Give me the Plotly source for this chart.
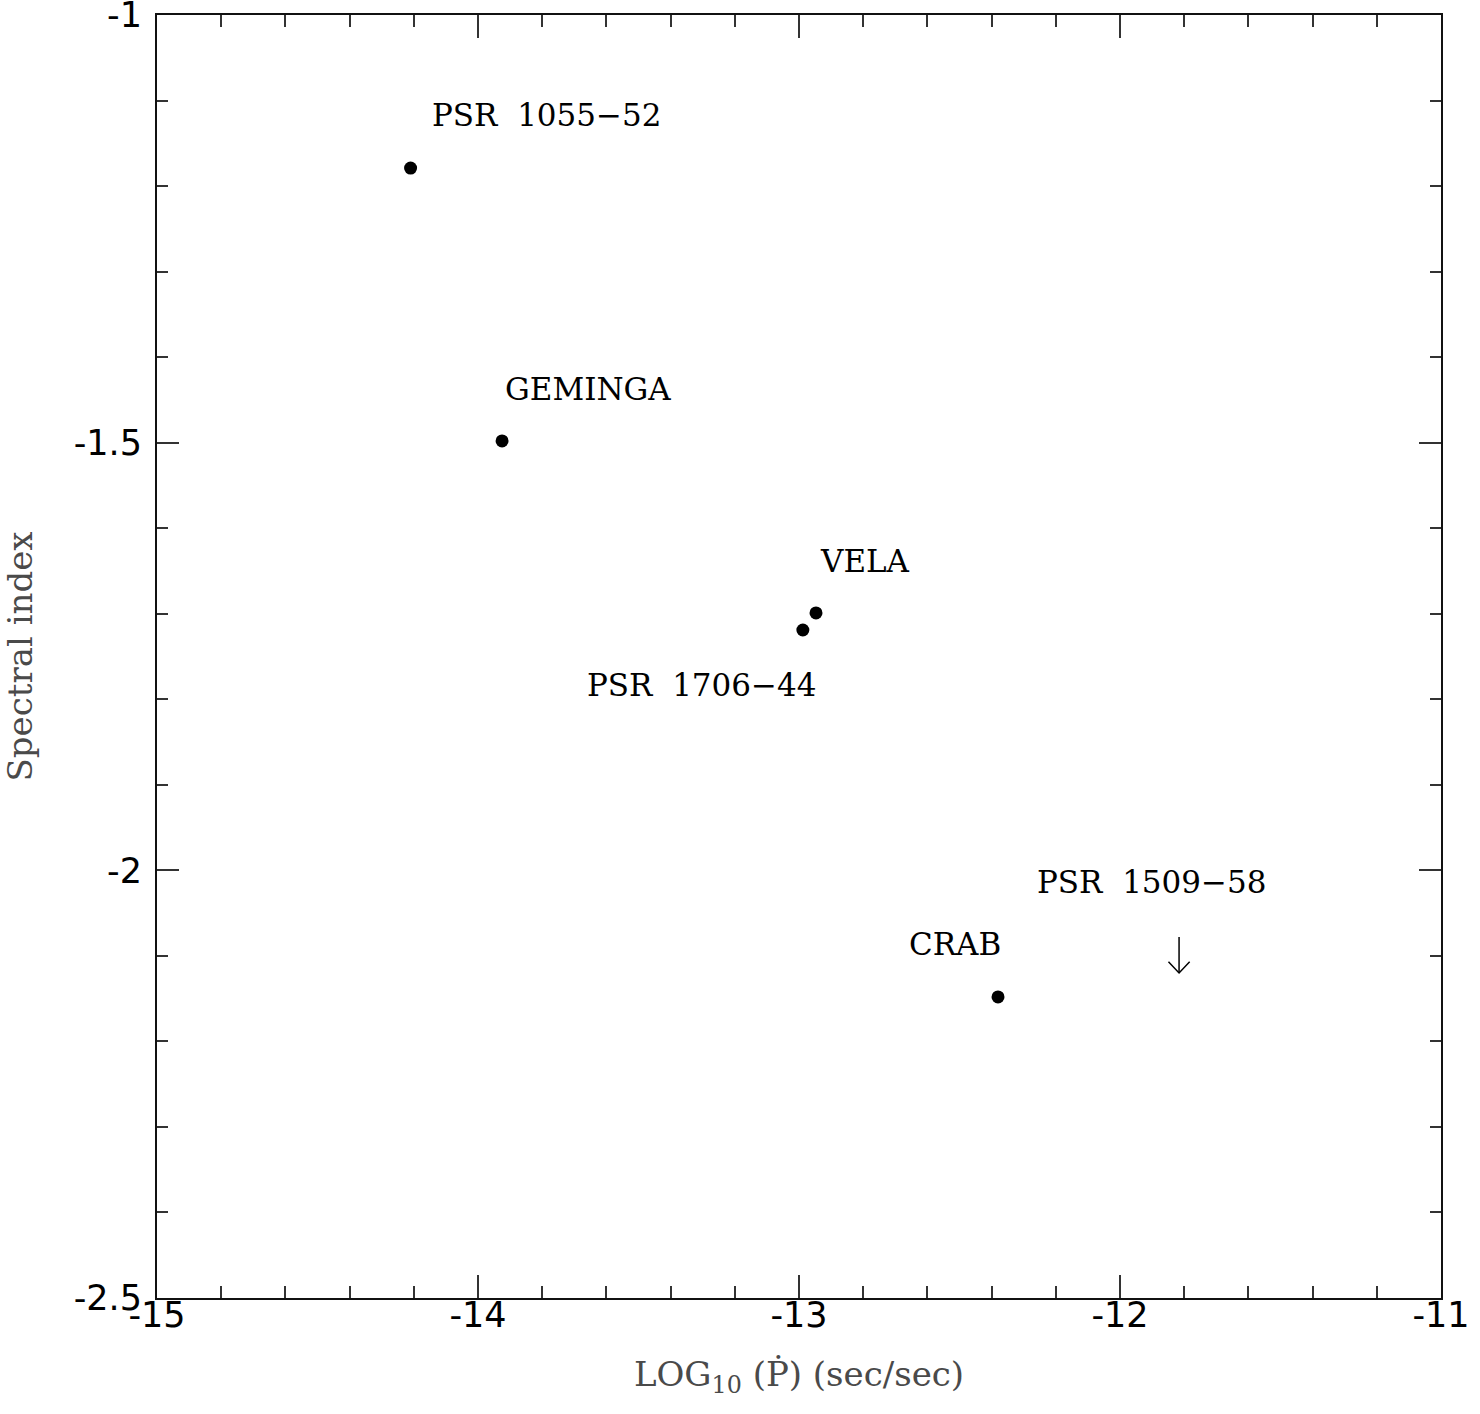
import plotly.graph_objects as go

# Pulsar measurements: log10 of period derivative vs. gamma-ray spectral index
names = ["PSR\u00a0\u00a01055\u221252", "GEMINGA", "VELA", "PSR\u00a0\u00a01706\u221244", "CRAB"]
log_pdot = [-14.21, -13.925, -12.947, -12.988, -12.38]
spec_index = [-1.179, -1.498, -1.699, -1.719, -2.148]

# Upper limit for PSR 1509-58
limit_name = "PSR\u00a0\u00a01509\u221258"
limit_log_pdot = -11.816
limit_index = -2.078

# Axis tick values and their printed labels
x_tick_vals = [-15, -14, -13, -12, -11]
x_tick_text = ["-15", "-14", "-13", "-12", "-11"]
y_tick_vals = [-2.5, -2, -1.5, -1]
y_tick_text = ["-2.5", "-2", "-1.5", "-1"]

# Label placement relative to each point (pixels): (xshift, yshift, xanchor)
label_offsets = [(19, 53, "left"), (1, 52, "left"), (2, 52, "left"),
                 (15, -55, "right"), (5, 53, "right")]

LABEL_FONT = dict(family="DejaVu Serif, serif", size=31, color="black")
TITLE_FONT = dict(family="DejaVu Serif, serif", size=34, color="#4a4a4a")
TICK_FONT = dict(family="DejaVu Sans, sans-serif", size=35, color="black")

fig = go.Figure()

fig.add_trace(go.Scatter(
    x=log_pdot, y=spec_index, mode="markers",
    marker=dict(color="black", size=13, line=dict(width=0)),
    hoverinfo="skip", showlegend=False,
))

# Open down-arrow marking the upper limit
arrow_len = 0.042
head_dx = 0.033
head_dy = 0.013
tip = limit_index - arrow_len
fig.add_trace(go.Scatter(
    x=[limit_log_pdot, limit_log_pdot, None,
       limit_log_pdot - head_dx, limit_log_pdot, limit_log_pdot + head_dx],
    y=[limit_index, tip, None, tip + head_dy, tip, tip + head_dy],
    mode="lines", line=dict(color="black", width=1.5),
    hoverinfo="skip", showlegend=False,
))

annotations = []
for name, x, y, (dx, dy, anchor) in zip(names, log_pdot, spec_index, label_offsets):
    annotations.append(dict(
        x=x, y=y, text=name, showarrow=False, xanchor=anchor, yanchor="middle",
        xshift=dx, yshift=dy, font=LABEL_FONT,
    ))
annotations.append(dict(
    x=limit_log_pdot, y=limit_index, text=limit_name, showarrow=False,
    xanchor="center", yanchor="middle", xshift=-28, yshift=55, font=LABEL_FONT,
))

axis_common = dict(
    showgrid=False, zeroline=False, showline=True, linecolor="#111111", linewidth=2,
    mirror="allticks", ticks="inside", tickcolor="#333333", tickwidth=2,
    tickfont=TICK_FONT, automargin=False, ticklabeloverflow="allow",
)

fig.update_layout(
    width=1480, height=1414,
    margin=dict(l=157, r=39, t=15, b=116),
    paper_bgcolor="white", plot_bgcolor="white",
    annotations=annotations,
    xaxis=dict(
        range=[-15, -11], tickvals=x_tick_vals, ticktext=x_tick_text, ticklen=23,
        ticklabelstandoff=-15,
        minor=dict(dtick=0.2, ticks="inside", ticklen=12, tickcolor="#333333", tickwidth=2),
        title=dict(text="LOG<sub>10</sub> (\u1e56) (sec/sec)", font=TITLE_FONT, standoff=28),
        **axis_common,
    ),
    yaxis=dict(
        range=[-2.5, -1], tickvals=y_tick_vals, ticktext=y_tick_text, ticklen=22,
        ticklabelstandoff=6,
        minor=dict(dtick=0.1, ticks="inside", ticklen=11, tickcolor="#333333", tickwidth=2),
        title=dict(text="Spectral index", font=TITLE_FONT, standoff=41),
        **axis_common,
    ),
)

fig.write_html("out.html")
